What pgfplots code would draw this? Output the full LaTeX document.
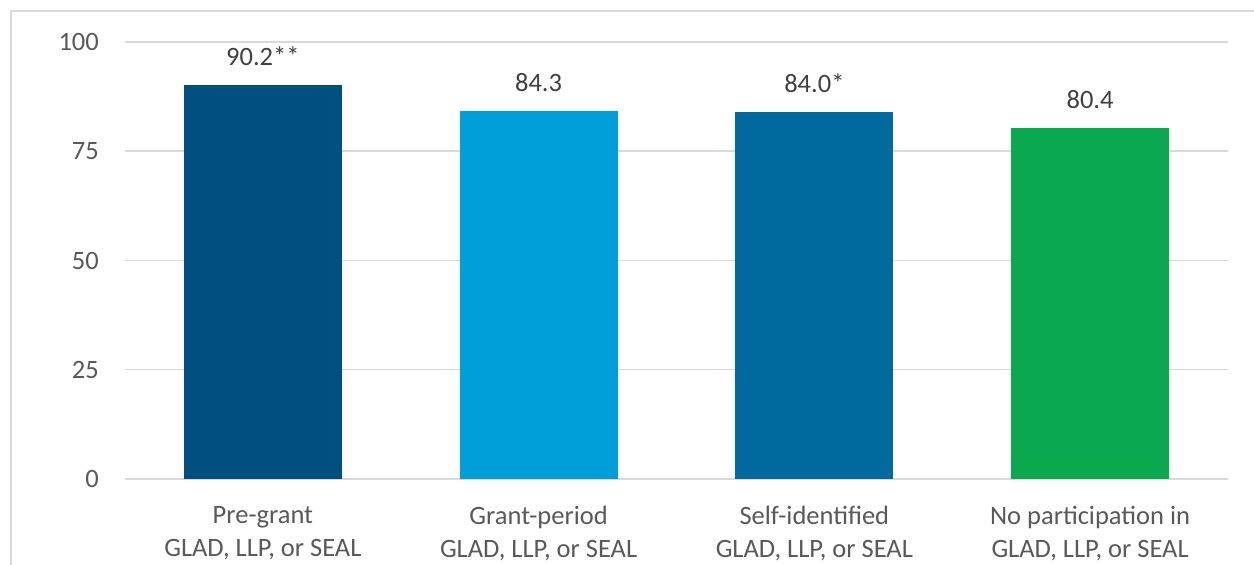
\documentclass[border=0pt]{standalone}
\usepackage{pgfplots}
\pgfplotsset{compat=1.18}
\usepackage{fontspec}
\setmainfont{Carlito}
\definecolor{cA}{HTML}{00507F}
\definecolor{cB}{HTML}{009FDA}
\definecolor{cC}{HTML}{006A9E}
\definecolor{cD}{HTML}{0AA84F}
\definecolor{gridc}{HTML}{D9D9D9}
\definecolor{txt}{HTML}{595959}
\definecolor{lbl}{HTML}{404040}
\begin{document}
\begin{tikzpicture}[x=1pt,y=1pt]
\useasboundingbox (0,0) rectangle (1254,565);
\draw[color=gridc, line width=1.3pt] (11,-5) -- (11,554) -- (1260,554);
\begin{axis}[
  at={(125pt,86pt)}, anchor=south west,
  scale only axis, width=1103pt, height=437pt,
  xmin=-0.5, xmax=3.5, ymin=0, ymax=100,
  ytick={0,25,50,75,100},
  xtick={0,1,2,3},
  xticklabels={{Pre-grant\\GLAD, LLP, or SEAL},{Grant-period\\GLAD, LLP, or SEAL},{Self-identified\\GLAD, LLP, or SEAL},{No participation in\\GLAD, LLP, or SEAL}},
  axis line style={draw=none},
  major tick length=0pt,
  tick style={draw=none},
  ymajorgrids, grid style={color=gridc, line width=1.5pt},
  /pgf/number format/assume math mode=true,
  ticklabel style={font=\fontsize{26.5}{33}\selectfont, color=txt},
  yticklabel style={inner sep=0pt, xshift=-26pt},
  xticklabel style={align=center, inner sep=0pt, yshift=-27pt},
  ybar, bar width=158pt, bar shift=0pt,
  nodes near coords, point meta=explicit symbolic,
  nodes near coords style={anchor=south, inner sep=0pt, yshift=19pt, font=\fontsize{26.5}{30}\selectfont, color=lbl},
  clip=false,
]
\addplot[fill=cA, draw=none] coordinates {(0,90.2) [90.2**]};
\addplot[fill=cB, draw=none] coordinates {(1,84.3) [84.3]};
\addplot[fill=cC, draw=none] coordinates {(2,84.0) [84.0*]};
\addplot[fill=cD, draw=none] coordinates {(3,80.4) [80.4]};
\end{axis}
\end{tikzpicture}
\end{document}
